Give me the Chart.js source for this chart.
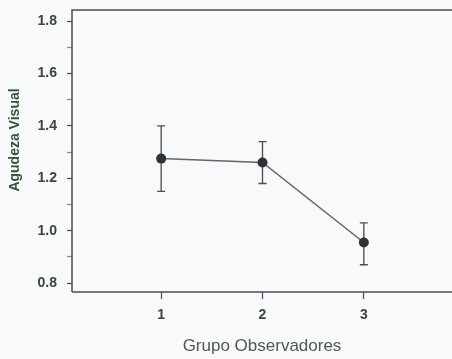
<!DOCTYPE html>
<html>
<head>
<meta charset="utf-8">
<script src="https://cdn.jsdelivr.net/npm/chart.js@4/dist/chart.umd.min.js"></script>
<style>
  html, body { margin: 0; padding: 0; background: #f8f9f9; }
  #c { display: block; }
</style>
</head>
<body>
<canvas id="c" width="452" height="359"></canvas>
<script>
// Visual acuity by observer group: mean with error bars
const groups = [1, 2, 3];
const meanAcuity = [1.275, 1.26, 0.955];
const upperAcuity = [1.40, 1.34, 1.03];
const lowerAcuity = [1.15, 1.18, 0.87];
const yTicks = [0.8, 0.9, 1.0, 1.1, 1.2, 1.3, 1.4, 1.5, 1.6, 1.7, 1.8];
const xTicks = [1, 2, 3];

const textColor = '#3a4540';
const axisColor = '#4e4858';
const fontFamily = '"Liberation Sans", Arial, sans-serif';

const bgPlugin = {
  id: 'bg',
  beforeDraw(chart) {
    const ctx = chart.ctx;
    ctx.save();
    ctx.fillStyle = '#f8f9f9';
    ctx.fillRect(0, 0, chart.width, chart.height);
    ctx.restore();
  }
};

const framePlugin = {
  id: 'frame',
  afterDraw(chart) {
    const { ctx, chartArea: a } = chart;
    ctx.save();
    ctx.strokeStyle = axisColor;
    ctx.lineWidth = 1.5;
    ctx.beginPath();
    ctx.moveTo(a.left, a.bottom);
    ctx.lineTo(a.left, a.top);
    ctx.lineTo(a.right, a.top);
    ctx.moveTo(a.left, a.bottom);
    ctx.lineTo(a.right, a.bottom);
    ctx.stroke();

    // axis titles
    ctx.fillStyle = '#35523b';
    ctx.font = 'bold 14px ' + fontFamily;
    ctx.textAlign = 'center';
    ctx.textBaseline = 'middle';
    ctx.translate(15, 140);
    ctx.rotate(-Math.PI / 2);
    ctx.fillText('Agudeza Visual', 0, 0);
    ctx.restore();

    ctx.save();
    ctx.fillStyle = '#50575a';
    ctx.font = '17px ' + fontFamily;
    ctx.textAlign = 'center';
    ctx.textBaseline = 'middle';
    ctx.fillText('Grupo Observadores', 262, 346);
    ctx.restore();
  }
};

const errorBarPlugin = {
  id: 'errorBars',
  beforeDatasetsDraw(chart) {
    const { ctx, scales: { x, y } } = chart;
    ctx.save();
    ctx.strokeStyle = '#4a4a50';
    ctx.lineWidth = 1.3;
    groups.forEach((g, i) => {
      const px = x.getPixelForValue(g);
      const yt = y.getPixelForValue(upperAcuity[i]);
      const yb = y.getPixelForValue(lowerAcuity[i]);
      ctx.beginPath();
      ctx.moveTo(px, yt); ctx.lineTo(px, yb);
      ctx.moveTo(px - 4, yt); ctx.lineTo(px + 4, yt);
      ctx.moveTo(px - 4, yb); ctx.lineTo(px + 4, yb);
      ctx.stroke();
    });
    ctx.restore();
  }
};

new Chart(document.getElementById('c'), {
  type: 'line',
  data: {
    datasets: [{
      data: groups.map((g, i) => ({ x: g, y: meanAcuity[i] })),
      borderColor: '#6a5f78',
      borderWidth: 1.5,
      pointRadius: 5,
      pointBackgroundColor: '#2e3434',
      pointBorderColor: '#2e3434',
      pointBorderWidth: 0,
      tension: 0
    }]
  },
  options: {
    responsive: false,
    animation: false,
    devicePixelRatio: 1,
    layout: { autoPadding: false, padding: { top: 10, right: 0, left: 0, bottom: 0 } },
    plugins: { legend: { display: false }, tooltip: { enabled: false } },
    scales: {
      x: {
        type: 'linear',
        min: 0.12,
        max: 3.87,
        afterBuildTicks(scale) { scale.ticks = xTicks.map(v => ({ value: v })); },
        afterFit(scale) {
          scale.height = 67;
          scale.paddingLeft = 0;
          scale.paddingRight = 0;
        },
        border: { display: false },
        grid: { drawOnChartArea: false, drawTicks: true, tickLength: 7, tickColor: axisColor, tickWidth: 1.2 },
        ticks: {
          color: textColor,
          padding: 8,
          font: { family: fontFamily, size: 14, weight: 'bold' },
          callback: v => String(v)
        }
      },
      y: {
        min: 0.766,
        max: 1.842,
        afterBuildTicks(scale) { scale.ticks = yTicks.map(v => ({ value: v })); },
        afterFit(scale) {
          scale.width = 72;
          scale.paddingTop = 0;
          scale.paddingBottom = 0;
        },
        border: { display: false },
        grid: {
          drawOnChartArea: false,
          drawTicks: true,
          tickLength: 5,
          tickWidth: 1.2,
          tickColor: ctx => (Math.round(ctx.tick.value * 10) % 2 === 0 ? axisColor : '#8a8790')
        },
        ticks: {
          color: textColor,
          padding: 10,
          font: { family: fontFamily, size: 14, weight: 'bold' },
          callback: v => (Math.round(v * 10) % 2 === 0 ? v.toFixed(1) : '')
        }
      }
    }
  },
  plugins: [bgPlugin, errorBarPlugin, framePlugin]
});
</script>
</body>
</html>
